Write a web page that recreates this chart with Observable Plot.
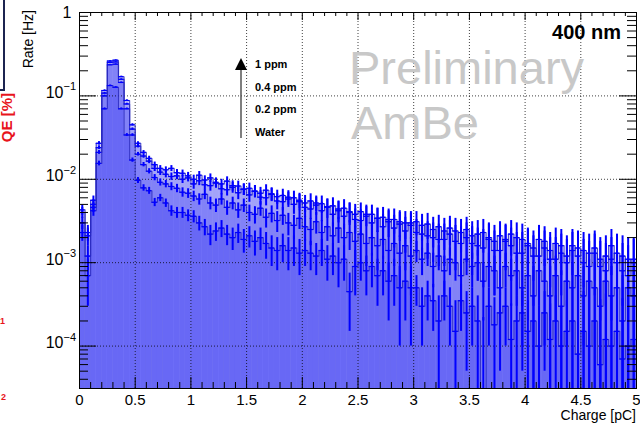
<!DOCTYPE html>
<html><head><meta charset="utf-8">
<script src="https://cdn.jsdelivr.net/npm/d3@7"></script>
<script src="https://cdn.jsdelivr.net/npm/@observablehq/plot@0.6"></script>
<style>body{margin:0;background:#fff;}#chart{width:640px;height:426px;}</style>
</head><body><div id="chart"></div>
<script>
// ---- data (bins of 0.05 pC from 0 to 5 pC) ----
const seriesNames = ["Water", "0.2 ppm", "0.4 ppm", "1 ppm"];
const binWidth = 0.05;
const errUnit = 1e-4;

const water = [0.0023,0.0007,0.0042,0.0155,0.070,0.133,0.127,0.070,0.034,0.017,
0.0097,0.0079,0.0073,0.0053,0.0060,0.0052,0.0042,0.0040,0.0040,0.0037,
0.0036,0.0030,0.0027,0.0022,0.0024,0.0026,0.0022,0.0020,0.0023,0.0019,
0.0021,0.0018,0.0020,0.0017,0.0015,0.0014,0.0016,0.0014,0.0015,0.0013,
0.0014,0.0013,0.0012,0.0014,0.0011,0.0012,0.0010,0.0011,0.00045,0.0009,
0.0010,0.0008,0.0009,0.0007,0.0008,0.0006,0.0007,0.0005,0.0006,0.0005,
0.0005,0.0003,0.0004,0.00035,0.0002,0.0004,0.0003,0.00015,0.00035,0.00025,
0.0003,0.0002,0.00002,0.0003,0.00018,0.00025,0.0003,0.00012,0.0002,0.00025,
0.00015,0.0002,0.0001,0.00025,0.00012,0.0002,0.0001,0.00015,0.0002,0.00008,
0.00015,0.0001,0.0002,0.00006,0.00012,0.0001,0.00015,0.00007,0.0001,0.00012];
const ppm02 = [0.0030,0.0012,0.0046,0.021,0.100,0.236,0.240,0.145,0.070,0.034,
0.020,0.0150,0.0125,0.0105,0.0092,0.0088,0.0082,0.0078,0.0070,0.0068,
0.0063,0.0058,0.0066,0.0052,0.0049,0.0058,0.0046,0.0052,0.0043,0.0049,
0.0040,0.0038,0.0045,0.0035,0.0039,0.0032,0.0037,0.0030,0.0028,0.0034,
0.0027,0.0025,0.0031,0.0023,0.0027,0.0021,0.0026,0.0020,0.0023,0.0018,
0.0022,0.0017,0.0020,0.0016,0.0019,0.0014,0.0017,0.0013,0.0016,0.0012,
0.0014,0.0011,0.0013,0.0009,0.0012,0.0008,0.0011,0.0010,0.0007,0.0011,
0.0009,0.0010,0.0006,0.0009,0.0008,0.0005,0.0009,0.0007,0.0008,0.0005,
0.0007,0.0004,0.0008,0.0006,0.0004,0.0007,0.0003,0.0006,0.0005,0.0007,
0.0004,0.0006,0.0005,0.0003,0.0006,0.0004,0.0005,0.0002,0.0005,0.0004];
const ppm04 = [0.0040,0.0021,0.0050,0.024,0.108,0.252,0.255,0.158,0.080,0.040,
0.025,0.019,0.0165,0.0135,0.0122,0.0115,0.0108,0.0110,0.0100,0.0104,
0.0088,0.0096,0.0086,0.0084,0.0090,0.0077,0.0075,0.0084,0.0069,0.0076,
0.0065,0.0072,0.0061,0.0060,0.0067,0.0055,0.0054,0.0061,0.0050,0.0056,
0.0046,0.0044,0.0052,0.0042,0.0047,0.0038,0.0044,0.0036,0.0041,0.0033,
0.0032,0.0038,0.0030,0.0034,0.0027,0.0033,0.0026,0.0031,0.0024,0.0030,
0.0023,0.0028,0.0021,0.0025,0.0019,0.0024,0.0022,0.0018,0.0023,0.0020,
0.0017,0.0022,0.0015,0.0020,0.0018,0.0014,0.0019,0.0016,0.0020,0.0013,
0.0017,0.0015,0.0012,0.0018,0.0014,0.0011,0.0016,0.0012,0.0014,0.0015,
0.0010,0.0013,0.0015,0.0009,0.0012,0.0011,0.0013,0.0008,0.0011,0.0010];
const ppm1 = [0.0043,0.0023,0.0056,0.027,0.116,0.262,0.268,0.170,0.088,0.045,
0.027,0.021,0.0178,0.0150,0.0135,0.0130,0.0135,0.0120,0.0118,0.0110,
0.0100,0.0112,0.0098,0.0104,0.0092,0.0088,0.0095,0.0080,0.0083,0.0076,
0.0078,0.0072,0.0068,0.0074,0.0066,0.0062,0.0064,0.0058,0.0060,0.0054,
0.0052,0.0055,0.0049,0.0051,0.0046,0.0048,0.0042,0.0045,0.0040,0.0038,
0.0041,0.0036,0.0038,0.0034,0.0035,0.0031,0.0033,0.0029,0.0030,0.0028,
0.0031,0.0022,0.0029,0.0020,0.0027,0.0019,0.0026,0.0024,0.0017,0.0025,
0.0021,0.0016,0.0023,0.0019,0.0014,0.0021,0.0018,0.0022,0.0013,0.0019,
0.0016,0.0012,0.0019,0.0015,0.0011,0.0017,0.0013,0.0010,0.0016,0.0012,
0.0014,0.0009,0.0013,0.0011,0.0008,0.0016,0.0010,0.0012,0.0007,0.0011];

// errors in units of 1e-4 Hz
const waterErr = [5,4,6,10,18,22,22,18,13,10, 8,7,7,6,6,6,6,6,6,6, 6,6,6,6,6,6,6,6,6,6, 6,6,6,6,6,6,6,6,6,6, 5,5,5,5,5,5,5,5,3,5,
4,4,4,4,4,4,4,4,4,4, 2,2,2,2,2,2,2,2,2,2, 2,2,2,2,2,2,2,2,2,2, 2,2,2,2,2,2,2,2,3,3, 3,3,3,3,3,3,3,3,3,3];
const ppm02Err = [5,4,6,11,21,27,27,22,16,12, 10,9,9,9,9,9,9,9,9,9, 9,9,9,9,9,9,9,9,9,9, 9,9,9,9,9,9,9,9,9,9, 9,9,9,9,9,9,9,9,9,9,
8,8,8,8,8,8,8,8,8,8, 4,4,4,4,4,4,4,4,4,4, 4,4,4,4,4,4,4,4,4,4, 5,5,5,5,5,5,5,5,5,5, 5,5,5,5,5,5,5,5,5,5];
const ppm04Err = [6,5,7,12,23,29,29,25,18,13, 12,11,11,11,11,11,11,11,11,11, 12,12,12,12,12,12,12,12,12,12, 12,12,12,12,12,12,12,12,12,12, 11,11,11,11,11,11,11,11,11,11,
11,11,11,11,11,11,11,11,11,11, 10,10,10,10,10,10,10,10,10,10, 10,10,10,10,10,10,10,10,10,10, 9,9,9,9,9,9,9,9,9,9, 9,9,9,9,9,9,9,9,9,9];
const ppm1Err = [6,5,7,13,24,30,30,26,19,14, 12,11,11,11,11,11,11,11,11,11, 12,12,12,12,12,12,12,12,12,12, 12,12,12,12,12,12,12,12,12,12, 12,12,12,12,12,12,12,12,12,12,
11,11,11,11,11,11,11,11,11,11, 10,10,10,10,10,10,10,10,10,10, 10,10,10,10,10,10,10,10,10,10, 9,9,9,9,9,9,9,9,9,9, 9,9,9,9,9,9,9,9,9,9];

const xTickValues = [0, 0.5, 1, 1.5, 2, 2.5, 3, 3.5, 4, 4.5, 5];
const xTickLabels = ["0", "0.5", "1", "1.5", "2", "2.5", "3", "3.5", "4", "4.5", "5"];
const yTickValues = [1e-4, 1e-3, 1e-2, 1e-1];
const yTickExponents = ["\u22124", "\u22123", "\u22122", "\u22121"];
const arrowLabels = ["1 ppm", "0.4 ppm", "0.2 ppm", "Water"];

// ---- build table ----
const allValues = [water, ppm02, ppm04, ppm1];
const allErrors = [waterErr, ppm02Err, ppm04Err, ppm1Err];
const yMin = 3.1e-5;
const bins = [];
allValues.forEach((vals, s) => {
  vals.forEach((v, i) => {
    bins.push({series: seriesNames[s], x1: i * binWidth, x2: (i + 1) * binWidth,
      xc: (i + 0.5) * binWidth, v, e: allErrors[s][i] * errUnit});
  });
});
const steps = [];
bins.forEach(b => { steps.push({series: b.series, x: b.x1, y: b.v}); steps.push({series: b.series, x: b.x2, y: b.v}); });

const W = 640, H = 426, mL = 79, mR = 4, mT = 12, mB = 38;
const fw = W - mL - mR, fh = H - mT - mB;
const xMinor = d3.range(1, 50).map(i => i / 10).filter(d => Math.abs(d * 2 - Math.round(d * 2)) > 1e-6);
const yMinor = [];
for (let k = -5; k <= -1; k++) for (let m = 2; m <= 9; m++) { const v = m * Math.pow(10, k); if (v > yMin) yMinor.push(v); }

const fillColor = "#0000ee";
const lineColor = "#2a2ac0";
const errColor = "#0000ff";

const chart = Plot.plot({
  width: W, height: H, marginLeft: mL, marginRight: mR, marginTop: mT, marginBottom: mB,
  x: {domain: [0, 5], axis: null},
  y: {type: "log", domain: [yMin, 1], clamp: true, axis: null},
  style: {fontFamily: "'Liberation Sans', Arial, Helvetica, sans-serif", background: "white", color: "black"},
  marks: [
    Plot.rect(bins, {x1: "x1", x2: "x2", y1: yMin, y2: d => Math.max(d.v, yMin), fill: fillColor, fillOpacity: 0.2}),
    Plot.ruleX(xTickValues.slice(1, -1), {stroke: "#000", strokeOpacity: 0.75, strokeDasharray: "1,2"}),
    Plot.ruleY(yTickValues, {stroke: "#000", strokeOpacity: 0.75, strokeDasharray: "1,2"}),
    Plot.line(steps, {x: "x", y: "y", z: "series", stroke: lineColor, strokeWidth: 1.1, strokeOpacity: 0.85}),
    Plot.ruleX(bins, {x: "xc", y1: d => Math.max(d.v - d.e, yMin), y2: d => d.v + d.e, stroke: errColor, strokeWidth: 2}),
    Plot.ruleY(bins.filter(d => d.v > yMin), {y: "v", x1: "x1", x2: "x2", stroke: errColor, strokeWidth: 1.2}),
    Plot.frame({stroke: "#000"}),
    // ticks (inside, ROOT style)
    Plot.tickX(xTickValues, {x: d => d, insetTop: fh - 11, stroke: "#000"}),
    Plot.tickX(xMinor, {x: d => d, insetTop: fh - 6, stroke: "#000"}),
    Plot.tickX(xTickValues, {x: d => d, insetBottom: fh - 8, stroke: "#000"}),
    Plot.tickX(xMinor, {x: d => d, insetBottom: fh - 4, stroke: "#000"}),
    Plot.tickY(yTickValues, {y: d => d, insetRight: fw - 17, stroke: "#000"}),
    Plot.tickY(yMinor, {y: d => d, insetRight: fw - 9, stroke: "#000"}),
    Plot.tickY(yTickValues, {y: d => d, insetLeft: fw - 17, stroke: "#000"}),
    Plot.tickY(yMinor, {y: d => d, insetLeft: fw - 9, stroke: "#000"}),
    // tick labels
    Plot.text(xTickValues, {x: d => d, frameAnchor: "bottom", text: (d, i) => xTickLabels[i], dy: 16, fontSize: 15}),
    Plot.text(yTickValues, {y: d => d, frameAnchor: "left", text: () => "10", textAnchor: "end", dx: -16, dy: -3, fontSize: 16}),
    Plot.text(yTickValues, {y: d => d, frameAnchor: "left", text: (d, i) => yTickExponents[i], textAnchor: "start", dx: -16, dy: -9, fontSize: 11}),
    Plot.text([1], {y: d => d, frameAnchor: "left", text: () => "1", textAnchor: "end", dx: -8, fontSize: 16})
  ]
});
document.getElementById("chart").appendChild(chart);

// ---- annotations ----
const svg = d3.select(chart);
const ff = "'Liberation Sans', Arial, Helvetica, sans-serif";
const g = svg.append("g").attr("font-family", ff).attr("text-anchor", "start");
g.append("text").attr("transform", "translate(33,10) rotate(-90)").attr("text-anchor", "end")
  .attr("font-size", 14).text("Rate [Hz]");
g.append("text").attr("x", 636).attr("y", 420).attr("text-anchor", "end").attr("font-size", 14).text("Charge [pC]");
g.append("text").attr("x", 621).attr("y", 39).attr("text-anchor", "end").attr("font-size", 20)
  .attr("font-weight", "bold").text("400 nm");
g.append("text").attr("x", 349).attr("y", 84).attr("text-anchor", "start").attr("font-size", 47).attr("fill", "#c8c8c8").text("Preliminary");
g.append("text").attr("x", 351).attr("y", 139).attr("text-anchor", "start").attr("font-size", 47).attr("fill", "#c8c8c8").text("AmBe");
// arrow
g.append("line").attr("x1", 241).attr("x2", 241).attr("y1", 68).attr("y2", 138).attr("stroke", "#555").attr("stroke-width", 1.5);
g.append("path").attr("d", "M235,70 L247,70 L241,58 Z").attr("fill", "#000");
const labelY = [68, 91, 113, 136];
arrowLabels.forEach((t, i) => g.append("text").attr("x", 255).attr("y", labelY[i]).attr("text-anchor", "start")
  .attr("font-size", 11).attr("font-weight", "bold").text(t));
// clipped pieces of the neighbouring panel
g.append("path").attr("d", "M0,90 H4 V0").attr("fill", "none").attr("stroke", "#1c2450").attr("stroke-width", 2);
g.append("text").attr("transform", "translate(12,93) rotate(-90)").attr("text-anchor", "end").attr("font-size", 15)
  .attr("font-weight", "bold").attr("fill", "#e8141c").text("QE [%]");
g.append("text").attr("x", 5).attr("y", 324).attr("text-anchor", "end").attr("font-size", 9).attr("font-weight", "bold").attr("fill", "#e8141c").text("1");
g.append("text").attr("x", 6).attr("y", 400).attr("text-anchor", "end").attr("font-size", 9).attr("font-weight", "bold").attr("fill", "#e8141c").text("2");
</script>
</body></html>
